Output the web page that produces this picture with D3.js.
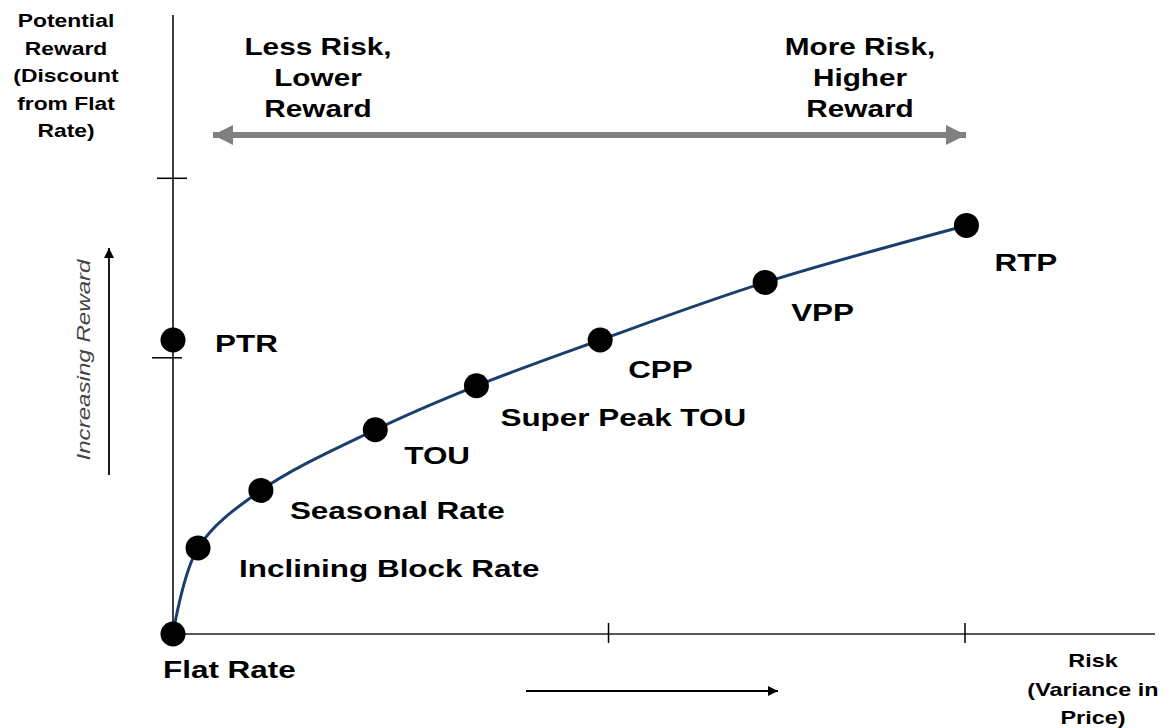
<!DOCTYPE html>
<html>
<head>
<meta charset="utf-8">
<script src="https://cdn.jsdelivr.net/npm/d3@7"></script>
<style>
  html, body { margin: 0; padding: 0; background: #fff; }
  svg { display: block; }
  text { font-family: "Liberation Sans", Arial, sans-serif; }
</style>
</head>
<body>
<svg id="chart" width="1169" height="728"></svg>
<script>
// ---- data ----
const rateNames   = ["Flat Rate", "Inclining Block Rate", "Seasonal Rate", "TOU", "Super Peak TOU", "CPP", "VPP", "RTP"];
const riskValues  = [0, 2.55, 8.95, 20.6, 30.9, 43.5, 60.3, 80.8];
const rewardValues= [0, 13.9, 23.2, 33.0, 40.1, 47.5, 56.8, 66.0];
const ptrName = "PTR";
const ptrRisk = 0;
const ptrReward = 47.5;
const xTickValues = [44.3, 80.6];
const yTickValues = [44.7, 73.7];
const leftNote  = ["Less Risk,", "Lower", "Reward"];
const rightNote = ["More Risk,", "Higher", "Reward"];
const yTitle = ["Potential", "Reward", "(Discount", "from Flat", "Rate)"];
const xTitle = ["Risk", "(Variance in", "Price)"];
const yArrowLabel = "Increasing Reward";

// ---- layout ----
const svg = d3.select("#chart");
const x = d3.scaleLinear().domain([0, 100]).range([173, 1155]);
const y = d3.scaleLinear().domain([0, 100]).range([634, 15]);

const defs = svg.append("defs");
function marker(id, color, w, h) {
  defs.append("marker").attr("id", id).attr("viewBox", "0 0 10 10")
    .attr("refX", 10).attr("refY", 5).attr("markerUnits", "userSpaceOnUse")
    .attr("markerWidth", w).attr("markerHeight", h).attr("orient", "auto-start-reverse")
    .append("path").attr("d", "M0,0 L10,5 L0,10 Z").attr("fill", color);
}
marker("grayHead", "#808080", 20, 20);
marker("blackHead", "#000", 12, 10);

// axes
const xAxis = d3.axisBottom(x).tickValues(xTickValues).tickSize(0).tickFormat("");
const gx = svg.append("g").attr("transform", `translate(0,${y(0)})`).call(xAxis);
gx.select(".domain").attr("d", `M${x(0)},0H${x(100)}`).attr("stroke", "#222").attr("stroke-width", 1.5);
gx.selectAll(".tick").append("line").attr("y1", -11).attr("y2", 9).attr("stroke", "#000").attr("stroke-width", 1.5);

const yAxis = d3.axisLeft(y).tickValues(yTickValues).tickSize(0).tickFormat("");
const gy = svg.append("g").attr("transform", `translate(${x(0)},0)`).call(yAxis);
gy.select(".domain").attr("d", `M0,${y(0)}V${y(100)}`).attr("stroke", "#000").attr("stroke-width", 1.5);
gy.selectAll(".tick").each(function(d, i) {
  const off = i === 0 ? [-21, 9] : [-16, 14];
  d3.select(this).append("line").attr("x1", off[0]).attr("x2", off[1]).attr("stroke", "#000").attr("stroke-width", 1.5);
});

// curve
const pts = riskValues.map((r, i) => [x(r), y(rewardValues[i])]);
svg.append("path")
  .attr("d", d3.line().curve(d3.curveCatmullRom.alpha(0.5))(pts))
  .attr("fill", "none").attr("stroke", "#1b3f6d").attr("stroke-width", 3);

// points
const allPts = pts.concat([[x(ptrRisk), y(ptrReward)]]);
svg.selectAll("circle.pt").data(allPts).enter().append("circle")
  .attr("class", "pt").attr("cx", d => d[0]).attr("cy", d => d[1]).attr("r", 12.5).attr("fill", "#000");

// wide text helper
function wideText(tx, ty, str, size, sx, anchor, opts) {
  const g = svg.append("g").attr("transform", `translate(${tx},${ty}) scale(${sx},1)`);
  const t = g.append("text").attr("x", 0).attr("y", 0).attr("font-size", size)
    .attr("font-weight", "bold").attr("text-anchor", anchor || "start").attr("fill", "#000").text(str);
  if (opts) opts(t);
  return t;
}

// point labels (offsets from point)
const labelOffsets = [[-10, 44], [41, 29], [29, 29], [29, 34], [24, 40], [28, 38], [26, 39], [28, 46]];
const bigFont = 24;
rateNames.forEach((n, i) => {
  wideText(pts[i][0] + labelOffsets[i][0], pts[i][1] + labelOffsets[i][1], n, bigFont, 1.31);
});
wideText(x(ptrRisk) + 42, y(ptrReward) + 12, ptrName, bigFont, 1.31);

// top notes
function multiline(lines, cx, y0, dy, size, sx) {
  lines.forEach((l, i) => wideText(cx, y0 + i * dy, l, size, sx, "middle"));
}
multiline(leftNote, 318, 55, 31, bigFont, 1.24);
multiline(rightNote, 860, 55, 31, bigFont, 1.24);

// gray double arrow
svg.append("line").attr("x1", 213).attr("x2", 966).attr("y1", 135).attr("y2", 135)
  .attr("stroke", "#808080").attr("stroke-width", 6)
  .attr("marker-start", "url(#grayHead)").attr("marker-end", "url(#grayHead)");

// axis titles
multiline(yTitle, 66, 27, 27.5, 18, 1.27);
multiline(xTitle, 1093, 667, 28.5, 18, 1.3);

// increasing reward arrow & label
svg.append("line").attr("x1", 109).attr("x2", 109).attr("y1", 475).attr("y2", 248)
  .attr("stroke", "#000").attr("stroke-width", 1.8).attr("marker-end", "url(#blackHead)");
svg.append("g").attr("transform", "translate(90,360) rotate(-90) scale(1.27,1)")
  .append("text").attr("text-anchor", "middle").attr("font-size", 19).attr("font-style", "italic")
  .attr("fill", "#444").text(yArrowLabel);

// risk arrow
svg.append("line").attr("x1", 526).attr("x2", 778).attr("y1", 691).attr("y2", 691)
  .attr("stroke", "#000").attr("stroke-width", 2).attr("marker-end", "url(#blackHead)");
</script>
</body>
</html>
